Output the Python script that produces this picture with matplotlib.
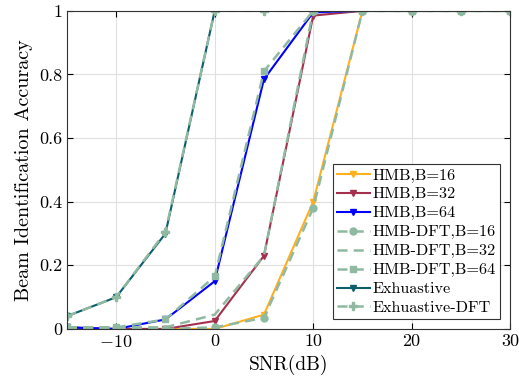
import matplotlib
matplotlib.use("Agg")
from matplotlib import pyplot as plt
import numpy as np

plt.rcParams['font.family'] = 'serif'
plt.rcParams['font.serif'] = ['cmr10']
plt.rcParams['mathtext.fontset'] = 'cm'
plt.rcParams['axes.formatter.use_mathtext'] = True

snr = [-15, -10, -5, 0, 5, 10, 15, 20, 25, 30]

hmb_16 = [0.0, 0.0, 0.0, 0.0, 0.045, 0.40, 1.0, 1.0, 1.0, 1.0]
hmb_32 = [0.005, 0.0, 0.0, 0.025, 0.23, 0.985, 1.0, 1.0, 1.0, 1.0]
hmb_64 = [0.005, 0.0, 0.03, 0.15, 0.785, 0.995, 1.0, 1.0, 1.0, 1.0]
dft_16 = [0.0, 0.0, 0.0, 0.005, 0.035, 0.38, 1.0, 1.0, 1.0, 1.0]
dft_32 = [0.005, 0.005, 0.005, 0.045, 0.23, 1.0, 1.0, 1.0, 1.0, 1.0]
dft_64 = [0.005, 0.005, 0.03, 0.165, 0.81, 1.0, 1.0, 1.0, 1.0, 1.0]
exh = [0.04, 0.10, 0.30, 1.0, 1.0, 1.0, 1.0, 1.0, 1.0, 1.0]
exh_dft = [0.04, 0.10, 0.305, 1.0, 1.0, 1.0, 1.0, 1.0, 1.0, 1.0]

orange = '#FFB01F'
maroon = '#A2304E'
blue = '#0000FF'
sage = '#8FB9A0'
teal = '#0B5E6B'
dash = (0, (4, 2.5))

fig, ax = plt.subplots(figsize=(5.19, 3.87), dpi=100)
fig.subplots_adjust(left=0.129, right=0.983, top=0.972, bottom=0.150)

ax.plot(snr, hmb_16, color=orange, lw=1.5, marker='v', ms=5, label='HMB,B=16')
ax.plot(snr, hmb_32, color=maroon, lw=1.5, marker='v', ms=5, label='HMB,B=32')
ax.plot(snr, hmb_64, color=blue, lw=1.5, marker='v', ms=5, label='HMB,B=64')
ax.plot(snr, dft_16, color=sage, lw=1.8, ls=dash, marker='o', ms=5, label='HMB-DFT,B=16')
ax.plot(snr, dft_32, color=sage, lw=1.8, ls=dash, label='HMB-DFT,B=32')
ax.plot(snr, dft_64, color=sage, lw=1.8, ls=dash, marker='s', ms=5, label='HMB-DFT,B=64')
ax.plot(snr, exh, color=teal, lw=1.5, marker='v', ms=5, label='Exhuastive')
ax.plot(snr, exh_dft, color=sage, lw=1.8, ls=dash, marker='P', ms=6, label='Exhuastive-DFT')

ax.set_xlim(-15, 30)
ax.set_ylim(0, 1)
ax.set_xticks([-10, 0, 10, 20, 30])
ax.set_yticks([0, 0.2, 0.4, 0.6, 0.8, 1])
ax.set_yticklabels(['0', '0.2', '0.4', '0.6', '0.8', '1'])
ax.set_xticklabels(['$-10$', '0', '10', '20', '30'])
ax.tick_params(direction='in', labelsize=13, length=4, top=True, right=True)
ax.grid(True, color='#E0E0E0', lw=0.8)
ax.set_axisbelow(True)
for s in ax.spines.values():
    s.set_color('#333333')

ax.set_xlabel('SNR(dB)', fontsize=14)
ax.set_ylabel('Beam Identification Accuracy', fontsize=14.5)

leg = ax.legend(loc='lower right', fontsize=11.7, handlelength=2.0, handletextpad=0.2,
                labelspacing=0.28, borderpad=0.25, fancybox=False, framealpha=1,
                borderaxespad=0.6)
leg.get_frame().set_edgecolor('#333333')
leg.get_frame().set_linewidth(0.8)

fig.savefig('out.png', dpi=100)
